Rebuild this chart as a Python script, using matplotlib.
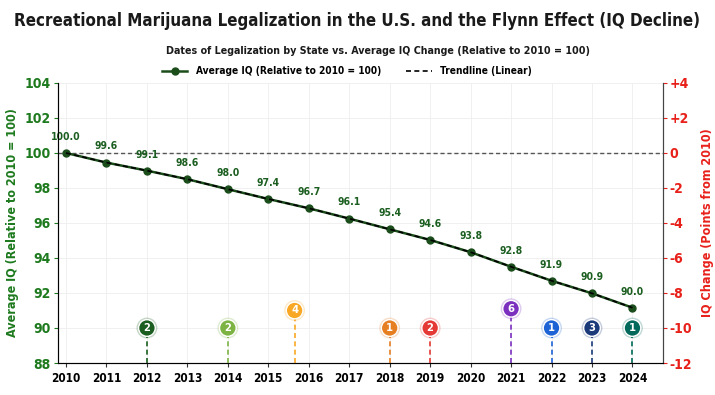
import matplotlib
matplotlib.use('Agg')
import matplotlib.pyplot as plt
import matplotlib.patheffects as pe
import numpy as np
from matplotlib.lines import Line2D

plt.rcParams['font.family'] = ['DejaVu Sans']
plt.rcParams['font.stretch'] = 'condensed'
plt.rcParams['font.weight'] = 'bold'

# data
years = np.arange(2010, 2025)
iq_plotted = [100.0, 99.45, 98.99, 98.5, 97.93, 97.37, 96.84, 96.25,
              95.64, 95.03, 94.33, 93.5, 92.7, 91.98, 91.16]
iq_labels = ['100.0', '99.6', '99.1', '98.6', '98.0', '97.4', '96.7', '96.1',
             '95.4', '94.6', '93.8', '92.8', '91.9', '90.9', '90.0']

legal_dates = [2012.0, 2014.0, 2015.65, 2018.0, 2019.0, 2021.0, 2022.0, 2023.0, 2024.0]
legal_counts = [2, 2, 4, 1, 2, 6, 1, 3, 1]
legal_heights = [90, 90, 91.0, 90, 90, 91.1, 90, 90, 90]
legal_colors = ['#1b5e20', '#7cb342', '#f9a825', '#e67e22', '#e53935',
                '#7b2fbe', '#1e63d6', '#1a3a7a', '#00695c']

green = '#1e7a1e'
dark_green = '#1b4d1b'
red = '#e8201a'

fig = plt.figure(figsize=(7.15, 3.95), dpi=100)
ax = fig.add_axes([0.081, 0.081, 0.846, 0.709])

ax.grid(True, color='#eeeeee', linewidth=0.6)
ax.set_axisbelow(True)

# reference line at 100
ax.axhline(100, color='#555555', linestyle=(0, (3, 2)), linewidth=1, zorder=2)

# IQ line and trendline drawn over it
ax.plot(years, iq_plotted, color=dark_green, marker='o', markersize=5,
        linewidth=1.8, zorder=4)
ax.plot(years, iq_plotted, color='black', linestyle=(0, (3, 2)),
        linewidth=1.2, zorder=5)

for x, y, lab in zip(years, iq_plotted, iq_labels):
    ax.annotate(lab, (x, y), xytext=(0, 8), textcoords='offset points',
                ha='center', va='bottom', fontsize=7.5, color='#1b5e20',
                fontweight='bold', zorder=6)

# legalization pins
for d, n, h, c in zip(legal_dates, legal_counts, legal_heights, legal_colors):
    ax.plot([d, d], [88, h], color=c, linestyle=(0, (3, 2)), linewidth=1.2, zorder=3)
    ax.plot(d, h, marker='o', markersize=12, color=c, markeredgecolor='white',
            markeredgewidth=1, zorder=7,
            path_effects=[pe.withStroke(linewidth=3, foreground=c, alpha=0.25)])
    ax.text(d, h, str(n), ha='center', va='center', color='white',
            fontsize=8, fontweight='bold', zorder=8)

ax.set_xlim(2009.8, 2024.75)
ax.set_ylim(88, 104)
ax.set_xticks(years)
ax.set_xticklabels([str(y) for y in years], fontsize=8.5, fontweight='bold')
ax.set_yticks(np.arange(88, 105, 2))
ax.tick_params(axis='y', colors=green, labelsize=10, length=3, pad=2)
ax.tick_params(axis='x', length=3, colors='#333333')
for lab in ax.get_yticklabels():
    lab.set_fontweight('bold')
for lab in ax.get_xticklabels():
    lab.set_color('black')
ax.set_ylabel('Average IQ (Relative to 2010 = 100)', color=green,
              fontsize=9, fontweight='bold', labelpad=4)
ax.spines['top'].set_visible(False)
for s in ['left', 'bottom', 'right']:
    ax.spines[s].set_color('#444444')

ax2 = ax.twinx()
ax2.set_ylim(-12, 4)
ax2.set_yticks(np.arange(-12, 5, 2))
ax2.set_yticklabels(['%+d' % v if v > 0 else '%d' % v for v in np.arange(-12, 5, 2)])
ax2.tick_params(axis='y', colors=red, labelsize=10, length=3, pad=2)
for lab in ax2.get_yticklabels():
    lab.set_fontweight('bold')
ax2.set_ylabel('IQ Change (Points from 2010)', color=red, fontsize=9,
               fontweight='bold', labelpad=6)
ax2.spines['top'].set_visible(False)
ax2.spines['right'].set_color('#444444')

fig.text(0.5, 0.948, 'Recreational Marijuana Legalization in the U.S. and the Flynn Effect (IQ Decline)',
         ha='center', va='center', fontsize=12.2, fontweight='bold', color='#1a1a1a')
fig.text(0.528, 0.871, 'Dates of Legalization by State vs. Average IQ Change (Relative to 2010 = 100)',
         ha='center', va='center', fontsize=7.7, fontweight='bold', color='#1a1a1a')

handles = [Line2D([], [], color=dark_green, marker='o', markersize=5, linewidth=1.8),
           Line2D([], [], color='black', linestyle=(0, (3, 2)), linewidth=1.2)]
fig.legend(handles, ['Average IQ (Relative to 2010 = 100)', 'Trendline (Linear)'],
           loc='center', bbox_to_anchor=(0.485, 0.82), ncol=2, frameon=False,
           fontsize=7.3, columnspacing=2.5, handlelength=2.5)

fig.savefig('out.png', dpi=100)
